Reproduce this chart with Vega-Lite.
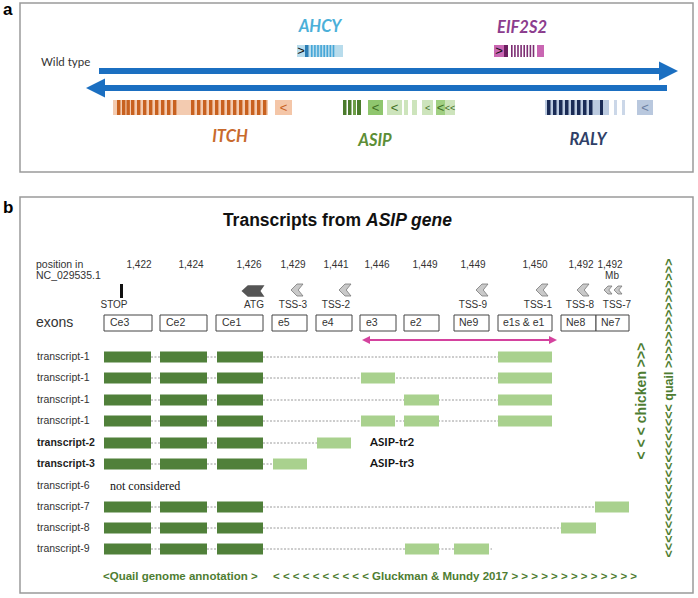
{
  "$schema": "https://vega.github.io/schema/vega-lite/v6.json",
  "width": 698,
  "height": 598,
  "autosize": {"type": "fit", "contains": "padding"},
  "padding": 0,
  "background": "white",
  "config": {"view": {"stroke": null}},
  "encoding": {
    "x": {"field": "x", "type": "quantitative", "scale": {"domain": [0, 698], "nice": false, "zero": false}, "axis": null},
    "y": {"field": "y", "type": "quantitative", "scale": {"domain": [0, 598], "nice": false, "zero": false, "reverse": true}, "axis": null}
  },
  "datasets": {
    "frames": [
      {"x": 20, "x2": 693, "y": 3, "y2": 172},
      {"x": 20, "x2": 693, "y": 197, "y2": 593}
    ],
    "connectors": [
      {"x": 151, "x2": 552, "y": 357}, {"x": 151, "x2": 552, "y": 378}, {"x": 151, "x2": 552, "y": 400},
      {"x": 151, "x2": 552, "y": 421}, {"x": 151, "x2": 351, "y": 443}, {"x": 151, "x2": 273, "y": 464},
      {"x": 151, "x2": 595, "y": 507}, {"x": 151, "x2": 561, "y": 528}, {"x": 151, "x2": 492, "y": 549}
    ],
    "boxes": [
      {"x": 297, "x2": 343, "y": 45, "y2": 57, "part": "ahcy_bg"},
      {"x": 305, "x2": 308.5, "y": 45, "y2": 57, "part": "ahcy_dark"},
      {"x": 311, "x2": 312.6, "y": 45, "y2": 57, "part": "ahcy_stripe"},
      {"x": 314.1, "x2": 315.7, "y": 45, "y2": 57, "part": "ahcy_stripe"},
      {"x": 317.2, "x2": 318.8, "y": 45, "y2": 57, "part": "ahcy_stripe"},
      {"x": 320.3, "x2": 321.9, "y": 45, "y2": 57, "part": "ahcy_stripe"},
      {"x": 323.4, "x2": 325, "y": 45, "y2": 57, "part": "ahcy_stripe"},
      {"x": 326.5, "x2": 328.1, "y": 45, "y2": 57, "part": "ahcy_stripe"},
      {"x": 329.6, "x2": 331.2, "y": 45, "y2": 57, "part": "ahcy_stripe"},
      {"x": 332.7, "x2": 334.3, "y": 45, "y2": 57, "part": "ahcy_stripe"},
      {"x": 494, "x2": 504, "y": 45, "y2": 57, "part": "eif_box"},
      {"x": 504, "x2": 508, "y": 45, "y2": 57, "part": "eif_dark"},
      {"x": 511, "x2": 512.6, "y": 45, "y2": 57, "part": "eif_stripe"},
      {"x": 514.1, "x2": 515.7, "y": 45, "y2": 57, "part": "eif_stripe"},
      {"x": 517.2, "x2": 518.8, "y": 45, "y2": 57, "part": "eif_stripe"},
      {"x": 520.3, "x2": 521.9, "y": 45, "y2": 57, "part": "eif_stripe"},
      {"x": 523.4, "x2": 525, "y": 45, "y2": 57, "part": "eif_stripe"},
      {"x": 526.5, "x2": 528.1, "y": 45, "y2": 57, "part": "eif_stripe"},
      {"x": 529.6, "x2": 531.2, "y": 45, "y2": 57, "part": "eif_stripe"},
      {"x": 532.7, "x2": 534.3, "y": 45, "y2": 57, "part": "eif_stripe"},
      {"x": 537, "x2": 544, "y": 45, "y2": 57, "part": "eif_box"},
      {"x": 113, "x2": 268, "y": 100, "y2": 115, "part": "itch_bg"},
      {"x": 117, "x2": 120.4, "y": 100, "y2": 115, "part": "itch_stripe"},
      {"x": 122, "x2": 125.4, "y": 100, "y2": 115, "part": "itch_stripe"},
      {"x": 126.5, "x2": 129.9, "y": 100, "y2": 115, "part": "itch_stripe"},
      {"x": 131, "x2": 134.4, "y": 100, "y2": 115, "part": "itch_stripe"},
      {"x": 137, "x2": 140.4, "y": 100, "y2": 115, "part": "itch_stripe"},
      {"x": 143, "x2": 146.4, "y": 100, "y2": 115, "part": "itch_stripe"},
      {"x": 149, "x2": 152.4, "y": 100, "y2": 115, "part": "itch_stripe"},
      {"x": 155, "x2": 158.4, "y": 100, "y2": 115, "part": "itch_stripe"},
      {"x": 161, "x2": 164.4, "y": 100, "y2": 115, "part": "itch_stripe"},
      {"x": 167, "x2": 170.4, "y": 100, "y2": 115, "part": "itch_stripe"},
      {"x": 173, "x2": 176.4, "y": 100, "y2": 115, "part": "itch_stripe"},
      {"x": 191, "x2": 194.4, "y": 100, "y2": 115, "part": "itch_stripe"},
      {"x": 197, "x2": 200.4, "y": 100, "y2": 115, "part": "itch_stripe"},
      {"x": 203, "x2": 206.4, "y": 100, "y2": 115, "part": "itch_stripe"},
      {"x": 209, "x2": 212.4, "y": 100, "y2": 115, "part": "itch_stripe"},
      {"x": 215, "x2": 218.4, "y": 100, "y2": 115, "part": "itch_stripe"},
      {"x": 221, "x2": 224.4, "y": 100, "y2": 115, "part": "itch_stripe"},
      {"x": 227, "x2": 230.4, "y": 100, "y2": 115, "part": "itch_stripe"},
      {"x": 233, "x2": 236.4, "y": 100, "y2": 115, "part": "itch_stripe"},
      {"x": 239, "x2": 242.4, "y": 100, "y2": 115, "part": "itch_stripe"},
      {"x": 245, "x2": 248.4, "y": 100, "y2": 115, "part": "itch_stripe"},
      {"x": 251, "x2": 254.4, "y": 100, "y2": 115, "part": "itch_stripe"},
      {"x": 257, "x2": 260.4, "y": 100, "y2": 115, "part": "itch_stripe"},
      {"x": 263, "x2": 266.4, "y": 100, "y2": 115, "part": "itch_stripe"},
      {"x": 275, "x2": 292, "y": 100, "y2": 115, "part": "itch_box"},
      {"x": 343, "x2": 346.5, "y": 100, "y2": 115, "part": "asip_dark"},
      {"x": 348, "x2": 351.5, "y": 100, "y2": 115, "part": "asip_dark"},
      {"x": 353, "x2": 356, "y": 100, "y2": 115, "part": "asip_mid"},
      {"x": 357, "x2": 361, "y": 100, "y2": 115, "part": "asip_dark"},
      {"x": 368, "x2": 383, "y": 100, "y2": 115, "part": "asip_box1"},
      {"x": 387, "x2": 402, "y": 100, "y2": 115, "part": "asip_light"},
      {"x": 404, "x2": 408, "y": 100, "y2": 115, "part": "asip_light"},
      {"x": 412, "x2": 417, "y": 100, "y2": 115, "part": "asip_light"},
      {"x": 422, "x2": 433, "y": 100, "y2": 115, "part": "asip_light"},
      {"x": 436, "x2": 445, "y": 100, "y2": 115, "part": "asip_box4"},
      {"x": 445, "x2": 455, "y": 100, "y2": 115, "part": "asip_light"},
      {"x": 545, "x2": 609, "y": 100, "y2": 115, "part": "raly_bg"},
      {"x": 547, "x2": 550.5, "y": 100, "y2": 115, "part": "raly_dark"},
      {"x": 553, "x2": 556.5, "y": 100, "y2": 115, "part": "raly_dark"},
      {"x": 559, "x2": 562.5, "y": 100, "y2": 115, "part": "raly_dark"},
      {"x": 565, "x2": 568.5, "y": 100, "y2": 115, "part": "raly_dark"},
      {"x": 571, "x2": 574.5, "y": 100, "y2": 115, "part": "raly_dark"},
      {"x": 577, "x2": 580.5, "y": 100, "y2": 115, "part": "raly_dark"},
      {"x": 583, "x2": 586.5, "y": 100, "y2": 115, "part": "raly_dark"},
      {"x": 589, "x2": 592.5, "y": 100, "y2": 115, "part": "raly_dark"},
      {"x": 600, "x2": 603, "y": 100, "y2": 115, "part": "raly_dark"},
      {"x": 614, "x2": 617, "y": 100, "y2": 115, "part": "raly_light"},
      {"x": 622, "x2": 625, "y": 100, "y2": 115, "part": "raly_light"},
      {"x": 637, "x2": 653, "y": 100, "y2": 115, "part": "raly_box"},
      {"x": 120, "x2": 123, "y": 284, "y2": 298, "part": "stop"},
      {"x": 104, "x2": 151, "y": 351.5, "y2": 362.5, "part": "exon_dark"},
      {"x": 160, "x2": 207, "y": 351.5, "y2": 362.5, "part": "exon_dark"},
      {"x": 217, "x2": 263, "y": 351.5, "y2": 362.5, "part": "exon_dark"},
      {"x": 498, "x2": 552, "y": 351.5, "y2": 362.5, "part": "exon_light"},
      {"x": 104, "x2": 151, "y": 372.5, "y2": 383.5, "part": "exon_dark"},
      {"x": 160, "x2": 207, "y": 372.5, "y2": 383.5, "part": "exon_dark"},
      {"x": 217, "x2": 263, "y": 372.5, "y2": 383.5, "part": "exon_dark"},
      {"x": 361, "x2": 395, "y": 372.5, "y2": 383.5, "part": "exon_light"},
      {"x": 498, "x2": 552, "y": 372.5, "y2": 383.5, "part": "exon_light"},
      {"x": 104, "x2": 151, "y": 394.5, "y2": 405.5, "part": "exon_dark"},
      {"x": 160, "x2": 207, "y": 394.5, "y2": 405.5, "part": "exon_dark"},
      {"x": 217, "x2": 263, "y": 394.5, "y2": 405.5, "part": "exon_dark"},
      {"x": 404, "x2": 439, "y": 394.5, "y2": 405.5, "part": "exon_light"},
      {"x": 498, "x2": 552, "y": 394.5, "y2": 405.5, "part": "exon_light"},
      {"x": 104, "x2": 151, "y": 415.5, "y2": 426.5, "part": "exon_dark"},
      {"x": 160, "x2": 207, "y": 415.5, "y2": 426.5, "part": "exon_dark"},
      {"x": 217, "x2": 263, "y": 415.5, "y2": 426.5, "part": "exon_dark"},
      {"x": 361, "x2": 395, "y": 415.5, "y2": 426.5, "part": "exon_light"},
      {"x": 404, "x2": 439, "y": 415.5, "y2": 426.5, "part": "exon_light"},
      {"x": 498, "x2": 552, "y": 415.5, "y2": 426.5, "part": "exon_light"},
      {"x": 104, "x2": 151, "y": 437.5, "y2": 448.5, "part": "exon_dark"},
      {"x": 160, "x2": 207, "y": 437.5, "y2": 448.5, "part": "exon_dark"},
      {"x": 217, "x2": 263, "y": 437.5, "y2": 448.5, "part": "exon_dark"},
      {"x": 317, "x2": 351, "y": 437.5, "y2": 448.5, "part": "exon_light"},
      {"x": 104, "x2": 151, "y": 458.5, "y2": 469.5, "part": "exon_dark"},
      {"x": 160, "x2": 207, "y": 458.5, "y2": 469.5, "part": "exon_dark"},
      {"x": 217, "x2": 263, "y": 458.5, "y2": 469.5, "part": "exon_dark"},
      {"x": 273, "x2": 307, "y": 458.5, "y2": 469.5, "part": "exon_light"},
      {"x": 104, "x2": 151, "y": 501.5, "y2": 512.5, "part": "exon_dark"},
      {"x": 160, "x2": 207, "y": 501.5, "y2": 512.5, "part": "exon_dark"},
      {"x": 217, "x2": 263, "y": 501.5, "y2": 512.5, "part": "exon_dark"},
      {"x": 595, "x2": 629, "y": 501.5, "y2": 512.5, "part": "exon_light"},
      {"x": 104, "x2": 151, "y": 522.5, "y2": 533.5, "part": "exon_dark"},
      {"x": 160, "x2": 207, "y": 522.5, "y2": 533.5, "part": "exon_dark"},
      {"x": 217, "x2": 263, "y": 522.5, "y2": 533.5, "part": "exon_dark"},
      {"x": 561, "x2": 596, "y": 522.5, "y2": 533.5, "part": "exon_light"},
      {"x": 104, "x2": 151, "y": 543.5, "y2": 554.5, "part": "exon_dark"},
      {"x": 160, "x2": 207, "y": 543.5, "y2": 554.5, "part": "exon_dark"},
      {"x": 217, "x2": 263, "y": 543.5, "y2": 554.5, "part": "exon_dark"},
      {"x": 405, "x2": 439, "y": 543.5, "y2": 554.5, "part": "exon_light"},
      {"x": 454, "x2": 489, "y": 543.5, "y2": 554.5, "part": "exon_light"}
    ],
    "exonboxes": [
      {"x": 104, "x2": 152, "y": 315, "y2": 331, "name": "Ce3"},
      {"x": 160, "x2": 207, "y": 315, "y2": 331, "name": "Ce2"},
      {"x": 216, "x2": 263, "y": 315, "y2": 331, "name": "Ce1"},
      {"x": 272, "x2": 307, "y": 315, "y2": 331, "name": "e5"},
      {"x": 316, "x2": 352, "y": 315, "y2": 331, "name": "e4"},
      {"x": 360, "x2": 396, "y": 315, "y2": 331, "name": "e3"},
      {"x": 404, "x2": 439, "y": 315, "y2": 331, "name": "e2"},
      {"x": 454, "x2": 489, "y": 315, "y2": 331, "name": "Ne9"},
      {"x": 498, "x2": 552, "y": 315, "y2": 331, "name": "e1s & e1"},
      {"x": 561, "x2": 596, "y": 315, "y2": 331, "name": "Ne8"},
      {"x": 596, "x2": 629, "y": 315, "y2": 331, "name": "Ne7"}
    ]
  },
  "layer": [
    {
      "data": {"name": "frames"},
      "mark": {"type": "rect", "fill": "white", "stroke": "#9a9a9a", "strokeWidth": 1.5},
      "encoding": {"x2": {"field": "x2"}, "y2": {"field": "y2"}}
    },
    {
      "data": {"values": [
        {"x": 99, "x2": 666, "y": 71},
        {"x": 95, "x2": 667, "y": 88}
      ]},
      "mark": {"type": "rule", "color": "#1b6fc1", "strokeWidth": 6, "strokeCap": "butt"},
      "encoding": {"x2": {"field": "x2"}}
    },
    {
      "data": {"values": [
        {"x": 668.5, "y": 71, "dir": "right"},
        {"x": 95.5, "y": 88, "dir": "left"}
      ]},
      "mark": {"type": "point", "filled": true, "opacity": 1, "color": "#1b6fc1", "size": 361},
      "encoding": {
        "shape": {"field": "dir", "type": "nominal", "legend": null,
          "scale": {"domain": ["right", "left"], "range": ["M-1,-1L1,0L-1,1Z", "M1,-1L-1,0L1,1Z"]}}
      }
    },
    {
      "data": {"name": "connectors"},
      "mark": {"type": "rule", "color": "#9a9a9a", "strokeWidth": 1, "strokeDash": [2, 1.5]},
      "encoding": {"x2": {"field": "x2"}}
    },
    {
      "data": {"name": "boxes"},
      "mark": {"type": "rect"},
      "encoding": {
        "x2": {"field": "x2"},
        "y2": {"field": "y2"},
        "color": {"field": "part", "type": "nominal", "legend": null,
          "scale": {
            "domain": ["ahcy_bg","ahcy_dark","ahcy_stripe","eif_box","eif_dark","eif_stripe","itch_bg","itch_stripe","itch_box","asip_dark","asip_mid","asip_box1","asip_light","asip_box4","raly_bg","raly_dark","raly_light","raly_box","stop","exon_dark","exon_light","AHCY","EIF2S2","ITCH","ASIP","RALY","glyph_black","glyph_orange","glyph_green","glyph_blue"],
            "range": ["#b8dcec","#2a7db5","#45a6d8","#c966b2","#6c1f60","#7d2d73","#f3cbb0","#c8611f","#f4c6a8","#4b7b2c","#6e9e48","#8fc66e","#cde4bc","#a0cf82","#bccbe0","#1a2b55","#cbd7e8","#b9c8de","#111111","#50803a","#a9d18e","#4bb0d9","#8c3d8e","#c86a2d","#5d8e36","#2f3f68","#111111","#c8611f","#3f6e22","#6b7fa3"]
          }}
      }
    },
    {
      "data": {"name": "exonboxes"},
      "mark": {"type": "rect", "fill": "white", "stroke": "#444444", "strokeWidth": 1},
      "encoding": {"x2": {"field": "x2"}, "y2": {"field": "y2"}}
    },
    {
      "data": {"values": [{"x": 366, "x2": 553, "y": 340}]},
      "mark": {"type": "rule", "color": "#d4429e", "strokeWidth": 2},
      "encoding": {"x2": {"field": "x2"}}
    },
    {
      "data": {"values": [
        {"x": 366, "y": 340, "dir": "left"},
        {"x": 553, "y": 340, "dir": "right"}
      ]},
      "mark": {"type": "point", "filled": true, "opacity": 1, "color": "#d4429e", "size": 64},
      "encoding": {
        "shape": {"field": "dir", "type": "nominal", "legend": null,
          "scale": {"domain": ["right", "left"], "range": ["M-1,-0.75L1,0L-1,0.75Z", "M1,-0.75L-1,0L1,0.75Z"]}}
      }
    },
    {
      "data": {"values": [{"x": 253, "y": 291, "label": "ATG"}]},
      "mark": {"type": "point", "filled": true, "opacity": 1, "color": "#555555", "size": 529,
        "shape": "M-1,0L-0.45,-0.5L1,-0.5L0.65,0L1,0.5L-0.45,0.5Z"},
      "encoding": {}
    },
    {
      "data": {"values": [
        {"x": 297, "y": 290, "label": "TSS-3"},
        {"x": 345, "y": 290, "label": "TSS-2"},
        {"x": 482, "y": 290, "label": "TSS-9"},
        {"x": 542, "y": 290, "label": "TSS-1"},
        {"x": 583, "y": 290, "label": "TSS-8"}
      ]},
      "mark": {"type": "point", "filled": true, "opacity": 1, "fill": "#c9c9c9", "stroke": "#7a7a7a", "strokeWidth": 0.8, "size": 144,
        "shape": "M-1,0L0,-1L1,-1L0.2,0L1,1L0,1Z"},
      "encoding": {}
    },
    {
      "data": {"values": [
        {"x": 608, "y": 290, "label": "TSS-7a"},
        {"x": 618, "y": 290, "label": "TSS-7b"}
      ]},
      "mark": {"type": "point", "filled": true, "opacity": 1, "fill": "#c9c9c9", "stroke": "#7a7a7a", "strokeWidth": 0.8, "size": 64,
        "shape": "M-1,0L0,-1L1,-1L0.2,0L1,1L0,1Z"},
      "encoding": {}
    },
    {
      "data": {"values": [
        {"x": 3, "y": 15, "t": "a"},
        {"x": 3, "y": 213, "t": "b"}
      ]},
      "mark": {"type": "text", "align": "left", "baseline": "alphabetic", "font": "Liberation Sans", "fontWeight": "bold", "fontSize": 17, "color": "#000000"},
      "encoding": {"text": {"field": "t"}}
    },
    {
      "data": {"values": [{"x": 41, "y": 63, "t": "Wild type"}]},
      "mark": {"type": "text", "align": "left", "baseline": "middle", "font": "Lato", "fontSize": 11.5, "color": "#333333"},
      "encoding": {"text": {"field": "t"}}
    },
    {
      "data": {"values": [
        {"x": 320, "y": 27, "t": "AHCY", "part": "AHCY"},
        {"x": 522, "y": 28, "t": "EIF2S2", "part": "EIF2S2"},
        {"x": 230, "y": 137, "t": "ITCH", "part": "ITCH"},
        {"x": 375, "y": 141, "t": "ASIP", "part": "ASIP"},
        {"x": 588, "y": 140, "t": "RALY", "part": "RALY"}
      ]},
      "mark": {"type": "text", "align": "center", "baseline": "middle", "font": "Lato", "fontWeight": "bold", "fontStyle": "italic", "fontSize": 16.5},
      "encoding": {
        "text": {"field": "t"},
        "color": {"field": "part", "type": "nominal", "legend": null,
          "scale": {
            "domain": ["ahcy_bg","ahcy_dark","ahcy_stripe","eif_box","eif_dark","eif_stripe","itch_bg","itch_stripe","itch_box","asip_dark","asip_mid","asip_box1","asip_light","asip_box4","raly_bg","raly_dark","raly_light","raly_box","stop","exon_dark","exon_light","AHCY","EIF2S2","ITCH","ASIP","RALY","glyph_black","glyph_orange","glyph_green","glyph_blue"],
            "range": ["#b8dcec","#2a7db5","#45a6d8","#c966b2","#6c1f60","#7d2d73","#f3cbb0","#c8611f","#f4c6a8","#4b7b2c","#6e9e48","#8fc66e","#cde4bc","#a0cf82","#bccbe0","#1a2b55","#cbd7e8","#b9c8de","#111111","#50803a","#a9d18e","#4bb0d9","#8c3d8e","#c86a2d","#5d8e36","#2f3f68","#111111","#c8611f","#3f6e22","#6b7fa3"]
          }}
      }
    },
    {
      "data": {"values": [
        {"x": 301, "y": 51, "t": ">", "part": "glyph_black"},
        {"x": 499, "y": 51, "t": ">", "part": "glyph_black"},
        {"x": 283.5, "y": 107.5, "t": "<", "part": "glyph_orange"},
        {"x": 375.5, "y": 107.5, "t": "<", "part": "glyph_green"},
        {"x": 394.5, "y": 107.5, "t": "<", "part": "glyph_green"},
        {"x": 440.5, "y": 107.5, "t": "<", "part": "glyph_green"},
        {"x": 645, "y": 107.5, "t": "<", "part": "glyph_blue"}
      ]},
      "mark": {"type": "text", "align": "center", "baseline": "middle", "font": "Liberation Sans", "fontSize": 13},
      "encoding": {
        "text": {"field": "t"},
        "color": {"field": "part", "type": "nominal", "legend": null,
          "scale": {
            "domain": ["ahcy_bg","ahcy_dark","ahcy_stripe","eif_box","eif_dark","eif_stripe","itch_bg","itch_stripe","itch_box","asip_dark","asip_mid","asip_box1","asip_light","asip_box4","raly_bg","raly_dark","raly_light","raly_box","stop","exon_dark","exon_light","AHCY","EIF2S2","ITCH","ASIP","RALY","glyph_black","glyph_orange","glyph_green","glyph_blue"],
            "range": ["#b8dcec","#2a7db5","#45a6d8","#c966b2","#6c1f60","#7d2d73","#f3cbb0","#c8611f","#f4c6a8","#4b7b2c","#6e9e48","#8fc66e","#cde4bc","#a0cf82","#bccbe0","#1a2b55","#cbd7e8","#b9c8de","#111111","#50803a","#a9d18e","#4bb0d9","#8c3d8e","#c86a2d","#5d8e36","#2f3f68","#111111","#c8611f","#3f6e22","#6b7fa3"]
          }}
      }
    },
    {
      "data": {"values": [
        {"x": 427.5, "y": 107.5, "t": "<"},
        {"x": 450, "y": 107.5, "t": "<<"}
      ]},
      "mark": {"type": "text", "align": "center", "baseline": "middle", "font": "Liberation Sans", "fontSize": 9, "color": "#3f6e22"},
      "encoding": {"text": {"field": "t"}}
    },
    {
      "data": {"values": [{"x": 361, "y": 221, "t": "Transcripts from"}]},
      "mark": {"type": "text", "align": "right", "baseline": "middle", "font": "Liberation Sans", "fontWeight": "bold", "fontSize": 17.5, "color": "#111111"},
      "encoding": {"text": {"field": "t"}}
    },
    {
      "data": {"values": [{"x": 366, "y": 221, "t": "ASIP gene"}]},
      "mark": {"type": "text", "align": "left", "baseline": "middle", "font": "Liberation Sans", "fontWeight": "bold", "fontStyle": "italic", "fontSize": 17.5, "color": "#111111"},
      "encoding": {"text": {"field": "t"}}
    },
    {
      "data": {"values": [
        {"x": 139, "y": 265, "t": "1,422"},
        {"x": 191, "y": 265, "t": "1,424"},
        {"x": 249, "y": 265, "t": "1,426"},
        {"x": 293, "y": 265, "t": "1,429"},
        {"x": 336, "y": 265, "t": "1,441"},
        {"x": 377, "y": 265, "t": "1,446"},
        {"x": 425, "y": 265, "t": "1,449"},
        {"x": 473, "y": 265, "t": "1,449"},
        {"x": 535, "y": 265, "t": "1,450"},
        {"x": 581, "y": 265, "t": "1,492"},
        {"x": 610, "y": 265, "t": "1,492"},
        {"x": 612, "y": 276, "t": "Mb"},
        {"x": 114, "y": 305, "t": "STOP"},
        {"x": 254, "y": 305, "t": "ATG"},
        {"x": 293, "y": 305, "t": "TSS-3"},
        {"x": 336, "y": 305, "t": "TSS-2"},
        {"x": 473, "y": 305, "t": "TSS-9"},
        {"x": 538, "y": 305, "t": "TSS-1"},
        {"x": 580, "y": 305, "t": "TSS-8"},
        {"x": 617, "y": 305, "t": "TSS-7"}
      ]},
      "mark": {"type": "text", "align": "center", "baseline": "middle", "font": "Liberation Sans", "fontSize": 10, "color": "#333333"},
      "encoding": {"text": {"field": "t"}}
    },
    {
      "data": {"values": [
        {"x": 36, "y": 265, "t": "position in"},
        {"x": 36, "y": 276, "t": "NC_029535.1"},
        {"x": 110, "y": 323, "t": "Ce3"},
        {"x": 166, "y": 323, "t": "Ce2"},
        {"x": 222, "y": 323, "t": "Ce1"},
        {"x": 278, "y": 323, "t": "e5"},
        {"x": 322, "y": 323, "t": "e4"},
        {"x": 366, "y": 323, "t": "e3"},
        {"x": 410, "y": 323, "t": "e2"},
        {"x": 459, "y": 323, "t": "Ne9"},
        {"x": 503, "y": 323, "t": "e1s & e1"},
        {"x": 566, "y": 323, "t": "Ne8"},
        {"x": 601, "y": 323, "t": "Ne7"},
        {"x": 37, "y": 357, "t": "transcript-1"},
        {"x": 37, "y": 378, "t": "transcript-1"},
        {"x": 37, "y": 400, "t": "transcript-1"},
        {"x": 37, "y": 421, "t": "transcript-1"},
        {"x": 37, "y": 486, "t": "transcript-6"},
        {"x": 37, "y": 507, "t": "transcript-7"},
        {"x": 37, "y": 528, "t": "transcript-8"},
        {"x": 37, "y": 549, "t": "transcript-9"}
      ]},
      "mark": {"type": "text", "align": "left", "baseline": "middle", "font": "Liberation Sans", "fontSize": 10.5, "color": "#333333"},
      "encoding": {"text": {"field": "t"}}
    },
    {
      "data": {"values": [{"x": 36, "y": 323, "t": "exons"}]},
      "mark": {"type": "text", "align": "left", "baseline": "middle", "font": "Liberation Sans", "fontSize": 14, "color": "#333333"},
      "encoding": {"text": {"field": "t"}}
    },
    {
      "data": {"values": [
        {"x": 37, "y": 443, "t": "transcript-2"},
        {"x": 37, "y": 464, "t": "transcript-3"}
      ]},
      "mark": {"type": "text", "align": "left", "baseline": "middle", "font": "Liberation Sans", "fontWeight": "bold", "fontSize": 10.5, "color": "#222222"},
      "encoding": {"text": {"field": "t"}}
    },
    {
      "data": {"values": [
        {"x": 370, "y": 443, "t": "ASIP-tr2"},
        {"x": 370, "y": 464, "t": "ASIP-tr3"}
      ]},
      "mark": {"type": "text", "align": "left", "baseline": "middle", "font": "Lato", "fontWeight": "bold", "fontSize": 11.5, "color": "#111111"},
      "encoding": {"text": {"field": "t"}}
    },
    {
      "data": {"values": [{"x": 110, "y": 486, "t": "not considered"}]},
      "mark": {"type": "text", "align": "left", "baseline": "middle", "font": "Liberation Serif", "fontSize": 12, "color": "#111111"},
      "encoding": {"text": {"field": "t"}}
    },
    {
      "data": {"values": [
        {"x": 103, "y": 577, "t": "<Quail  genome annotation >"},
        {"x": 273, "y": 577, "t": "< < < < < < < < < < Gluckman & Mundy 2017 > > > > > > > > > > > > >"}
      ]},
      "mark": {"type": "text", "align": "left", "baseline": "middle", "font": "Liberation Sans", "fontWeight": "bold", "fontSize": 11.5, "color": "#4e7d32"},
      "encoding": {"text": {"field": "t"}}
    },
    {
      "data": {"values": [
        {"x": 642, "y": 401, "t": "< < <  chicken  >>>"}
      ]},
      "mark": {"type": "text", "align": "center", "baseline": "middle", "angle": 270, "font": "Liberation Sans", "fontWeight": "bold", "fontSize": 14, "color": "#4e7d32"},
      "encoding": {"text": {"field": "t"}}
    },
    {
      "data": {"values": [
        {"x": 669, "y": 408, "t": "<<<<<<<<<<<<<<<<<<<<<  quail  >>>>>>>>>>>>>>>"}
      ]},
      "mark": {"type": "text", "align": "center", "baseline": "middle", "angle": 270, "font": "Liberation Sans", "fontWeight": "bold", "fontSize": 12.5, "color": "#4e7d32"},
      "encoding": {"text": {"field": "t"}}
    }
  ]
}
